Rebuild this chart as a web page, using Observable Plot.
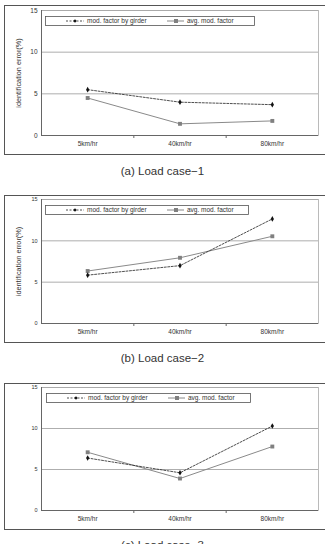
<!DOCTYPE html>
<html>
<head>
<meta charset="utf-8">
<script src="https://cdn.jsdelivr.net/npm/d3@7"></script>
<script src="https://cdn.jsdelivr.net/npm/@observablehq/plot@0.6"></script>
<style>
  body { margin:0; width:325px; height:544px; overflow:hidden; position:relative; background:#fff;
         font-family:"Liberation Sans", Arial, sans-serif; }
  .box { position:absolute; left:4px; width:340px; border:1px solid #555; box-sizing:border-box; }
  .plot { position:absolute; left:0; }
  .cap { position:absolute; left:0; width:325px; text-align:center; font-size:11.5px; line-height:14px; color:#333; }
</style>
</head>
<body>
<script>
const speeds = ["5km/hr", "40km/hr", "80km/hr"];
const seriesNames = ["mod. factor by girder", "avg. mod. factor"];
const yTicks = [0, 5, 10, 15];
const yLabel = "identification error(%)";
const captions = ["(a) Load case−1", "(b) Load case−2", "(c) Load case−3"];

const girderA = [5.5, 4.0, 3.7];
const avgA    = [4.5, 1.4, 1.75];
const girderB = [5.85, 7.0, 12.65];
const avgB    = [6.35, 7.95, 10.55];
const girderC = [6.4, 4.6, 10.3];
const avgC    = [7.1, 3.9, 7.8];

const FONT = "'Liberation Sans', Arial, sans-serif";

function addDiv(cls, styles, text) {
  const d = document.createElement("div");
  d.className = cls;
  Object.assign(d.style, styles);
  if (text) d.textContent = text;
  document.body.appendChild(d);
  return d;
}

function legend(top, left, width) {
  const svg = d3.create("svg").attr("width", width).attr("height", 10)
    .style("position", "absolute").style("left", left + "px").style("top", top + "px");
  svg.append("rect").attr("x", 0.5).attr("y", 0.5).attr("width", width - 1).attr("height", 9)
    .attr("fill", "#fff").attr("stroke", "#555").attr("stroke-width", 0.8);
  svg.append("line").attr("x1", 21).attr("x2", 39).attr("y1", 5).attr("y2", 5)
    .attr("stroke", "#222").attr("stroke-width", 0.8).attr("stroke-dasharray", "2,1.5");
  svg.append("path").attr("d", "M30,3.3L31.7,5L30,6.7L28.3,5Z").attr("fill", "#111");
  svg.append("text").attr("x", 42).attr("y", 7.3).text(seriesNames[0])
    .attr("font-size", 6.5).attr("font-family", FONT).attr("fill", "#333");
  svg.append("line").attr("x1", 122).attr("x2", 139).attr("y1", 5).attr("y2", 5)
    .attr("stroke", "#888").attr("stroke-width", 1);
  svg.append("rect").attr("x", 129).attr("y", 3).attr("width", 4).attr("height", 4).attr("fill", "#808080");
  svg.append("text").attr("x", 142).attr("y", 7.3).text(seriesNames[1])
    .attr("font-size", 6.5).attr("font-family", FONT).attr("fill", "#333");
  document.body.appendChild(svg.node());
}

function panel({top, height, mt, girder, avg, label, tickFont, legTop, legLeft, legWidth, capTop, caption}) {
  addDiv("box", {top: top + "px", height: height + "px"});
  const rows = speeds.map((s, i) => ({i, s, g: girder[i], a: avg[i]}));
  const marks = [
    Plot.gridY(yTicks.filter(t => t > 0), {stroke: "#999", strokeOpacity: 1, strokeWidth: 0.8}),
    Plot.frame({stroke: "#aaa", strokeWidth: 0.8}),
    Plot.axisY(yTicks, {tickSize: 0, tickPadding: 4, fontSize: tickFont, label: null}),
    Plot.axisX([0, 1, 2], {tickSize: 0, tickPadding: 6, tickFormat: i => speeds[i], label: null}),
    Plot.axisX([0.5, 1.5], {tickSize: 3, tickFormat: () => "", label: null, stroke: "#666"}),
    Plot.ruleY([0], {stroke: "#666"}),
    Plot.ruleX([-0.5], {stroke: "#666"}),
    Plot.line(rows, {x: "i", y: "a", stroke: "#8a8a8a", strokeWidth: 1}),
    Plot.line(rows, {x: "i", y: "g", stroke: "#222", strokeWidth: 0.8, strokeDasharray: "2,1.5"}),
    Plot.dot(rows, {x: "i", y: "a", symbol: "square", fill: "#808080", r: 2.2}),
    Plot.dot(rows, {x: "i", y: "g", symbol: "diamond", fill: "#111", r: 1.7})
  ];
  if (label) marks.push(Plot.axisY([], {tickSize: 0, fontSize: 7.3, label, labelAnchor: "center",
    labelOffset: 26, labelArrow: "none"}));
  const plot = Plot.plot({
    width: 325, height, marginLeft: 41, marginRight: 7, marginTop: mt, marginBottom: 20,
    x: {domain: [-0.5, 2.5]},
    y: {domain: [0, 15]},
    style: {fontFamily: FONT, fontSize: "6.5px", color: "#333", background: "transparent", overflow: "visible"},
    marks
  });
  plot.classList.add("plot");
  plot.style.top = top + "px";
  plot.style.position = "absolute";
  document.body.appendChild(plot);
  legend(legTop, legLeft, legWidth);
  addDiv("cap", {top: capTop + "px"}, caption);
}

panel({top: 5, height: 150, mt: 5, girder: girderA, avg: avgA, label: yLabel, tickFont: 6.5,
       legTop: 16, legLeft: 45, legWidth: 210, capTop: 164, caption: captions[0]});
panel({top: 195, height: 148, mt: 4, girder: girderB, avg: avgB, label: yLabel, tickFont: 5.5,
       legTop: 205, legLeft: 45, legWidth: 204, capTop: 351, caption: captions[1]});
panel({top: 383, height: 147, mt: 4, girder: girderC, avg: avgC, label: null, tickFont: 5.5,
       legTop: 393, legLeft: 46, legWidth: 205, capTop: 538, caption: captions[2]});
</script>
</body>
</html>
